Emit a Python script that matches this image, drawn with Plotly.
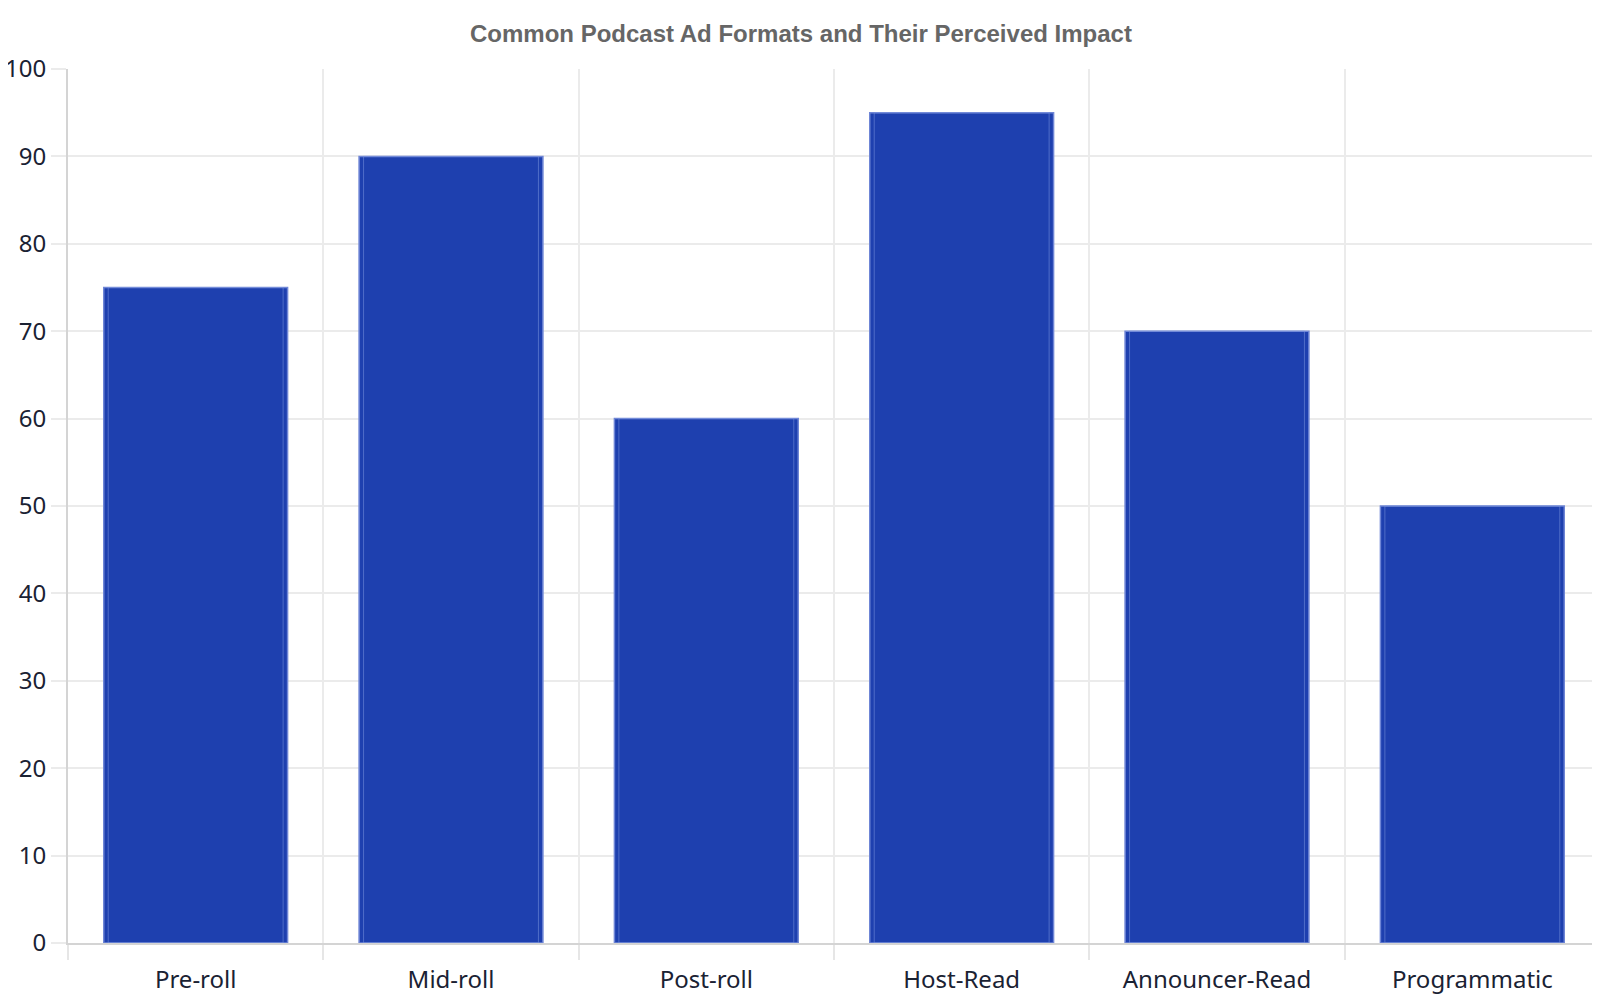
import plotly.graph_objects as go

categories = ["Pre-roll", "Mid-roll", "Post-roll", "Host-Read", "Announcer-Read", "Programmatic"]
impact = [75, 90, 60, 95, 70, 50]
y_ticks = [0, 10, 20, 30, 40, 50, 60, 70, 80, 90, 100]

fig = go.Figure()
fig.add_trace(go.Bar(
    x=categories, y=impact,
    marker=dict(color="#1e40af", line=dict(color="#6f86d6", width=1.5)),
    width=0.72, showlegend=False, hoverinfo="skip",
))
fig.add_trace(go.Bar(
    x=categories, y=impact,
    marker=dict(color="rgba(0,0,0,0)", line=dict(color="rgba(120,145,220,0.55)", width=1)),
    width=0.685, showlegend=False, hoverinfo="skip",
))

fig.update_layout(
    width=1600, height=1000,
    barmode="overlay",
    paper_bgcolor="white", plot_bgcolor="white",
    margin=dict(l=60, r=8, t=61, b=65),
    title=dict(
        text="<b>Common Podcast Ad Formats and Their Perceived Impact</b>",
        font=dict(family="Liberation Sans, Arial", size=24, color="#666666"),
        x=0.4956, xanchor="center", xref="container",
        y=0.974, yanchor="middle", yref="container",
    ),
    font=dict(family="Noto Sans", size=24, color="#1a2233"),
)
fig.update_xaxes(
    automargin=False,
    tickson="boundaries", ticks="outside", ticklen=15, tickcolor="#e6e6e6", tickwidth=1.5,
    ticklabelstandoff=14,
    showgrid=True, gridcolor="#ebebeb", gridwidth=1.5,
    showline=True, linecolor="#d4d4d4", linewidth=2,
    tickfont=dict(family="Noto Sans", size=24, color="#1a2233"),
)
fig.update_yaxes(
    automargin=False,
    range=[0, 100], tickvals=y_ticks, ticks="outside", ticklen=15, tickcolor="#ebebeb", tickwidth=1.5,
    showgrid=True, gridcolor="#ebebeb", gridwidth=1.5,
    showline=True, linecolor="#d4d4d4", linewidth=2, zeroline=False,
    tickfont=dict(family="Noto Sans", size=24, color="#1a2233"),
)

fig.write_html("out.html")
